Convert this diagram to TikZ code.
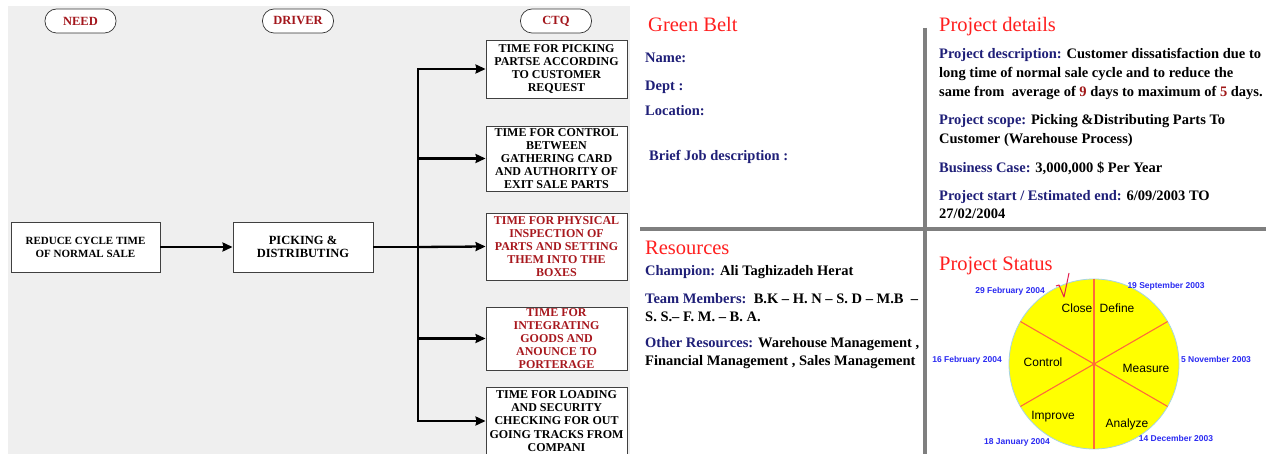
\documentclass[tikz,border=0pt]{standalone}
\usepackage{fontspec}
\setmainfont{Liberation Serif}
\newfontfamily\arialfont{Liberation Sans}
\usetikzlibrary{arrows.meta}

\definecolor{panelgray}{HTML}{EFEFEF}
\definecolor{tagred}{HTML}{A3161C}
\definecolor{ctqred}{HTML}{A8181E}
\definecolor{navy}{HTML}{1F1F78}
\definecolor{headred}{HTML}{FF1F1F}
\definecolor{numred}{HTML}{A01818}
\definecolor{rulegray}{HTML}{7F7F7F}
\definecolor{dateblue}{HTML}{2B2BF2}
\definecolor{pieyellow}{HTML}{FFFF00}
\definecolor{pieline}{HTML}{FF6A3A}
\definecolor{pieedge}{HTML}{A6D4E4}
\definecolor{checkred}{HTML}{E3204E}

\newcommand\lbl[1]{\textcolor{navy}{#1}}

\tikzset{
  tag/.style={draw=black!80, line width=0.7pt, fill=white, rounded corners=11.5pt,
    minimum width=71pt, minimum height=24pt, inner sep=0pt, text=tagred,
    font=\bfseries\fontsize{12.5}{13}\selectfont},
  flowbox/.style={draw=black!75, line width=0.9pt, fill=white, align=center,
    inner sep=1pt, font=\bfseries\fontsize{11}{13}\selectfont},
  ctqbox/.style={flowbox, minimum width=141pt, font=\bfseries\fontsize{12}{13.1}\selectfont},
  flowarrow/.style={line width=2.3pt, -{Stealth[length=10pt,width=9pt,inset=1pt]}},
  heading/.style={anchor=base west, inner sep=0pt, text=headred,
    font=\fontsize{20.5}{22}\selectfont},
  info/.style={anchor=base west, inner sep=0pt, font=\bfseries\fontsize{14.5}{16}\selectfont},
  divider/.style={draw=rulegray, line width=4pt},
  phase/.style={inner sep=0pt, font=\arialfont\fontsize{12}{13}\selectfont},
  milestone/.style={inner sep=0pt, text=dateblue,
    font=\arialfont\bfseries\fontsize{8.5}{9}\selectfont},
}

\begin{document}
\begin{tikzpicture}[x=1pt, y=-1pt]
\clip (0,0) rectangle (1266,454);
\fill[white] (0,0) rectangle (1266,454);

% ---------------- left: CTQ tree ----------------
\fill[panelgray] (8,6) rectangle (630,454);

\node[tag] (tneed)   at (80.5,21) {NEED};
\node[tag] (tdriver) at (298,21)  {DRIVER};
\node[tag] (tctq)    at (556,21)  {CTQ};

\node[flowbox, minimum width=149pt, minimum height=50pt] (need) at (85.5,247)
  {REDUCE CYCLE TIME\\OF NORMAL SALE};
\node[flowbox, minimum width=140pt, minimum height=50pt,
      font=\bfseries\fontsize{12.5}{13.5}\selectfont] (driver) at (303,247)
  {PICKING \&\\DISTRIBUTING};

\node[ctqbox, minimum height=58pt] (ctq1) at (556.5,69)
  {TIME FOR PICKING\\PARTSE ACCORDING\\TO CUSTOMER\\REQUEST};
\node[ctqbox, minimum height=65pt] (ctq2) at (556.5,158.5)
  {TIME FOR CONTROL\\BETWEEN\\GATHERING CARD\\AND AUTHORITY OF\\EXIT SALE PARTS};
\node[ctqbox, minimum height=67pt, text=ctqred] (ctq3) at (556.5,246.5)
  {TIME FOR PHYSICAL\\INSPECTION OF\\PARTS AND SETTING\\THEM INTO THE\\BOXES};
\node[ctqbox, minimum height=63pt, text=ctqred] (ctq4) at (556.5,338.5)
  {TIME FOR\\INTEGRATING\\GOODS AND\\ANOUNCE TO\\PORTERAGE};
\node[ctqbox, minimum height=68pt] (ctq5) at (556.5,421)
  {TIME FOR LOADING\\AND SECURITY\\CHECKING FOR OUT\\GOING TRACKS FROM\\COMPANI};

\coordinate (bus) at (418,247);

\draw[flowarrow] (need) -- (driver);
\draw[line width=2.3pt] (driver.east) -- (bus);
\draw[flowarrow] (bus) |- (ctq1.west);
\draw[flowarrow] (bus) |- (ctq2.west);
\draw[flowarrow] (bus) -- (ctq3.west);
\draw[flowarrow] (bus) |- (ctq4.west);
\draw[flowarrow] (bus) |- (ctq5.west);

% ---------------- right: project charter ----------------
\draw[divider] (925,28) -- (925,454);
\draw[divider] (640,229) -- (1266,229);

\node[heading] (gb) at (648,32) {Green Belt};
\node[info, text=navy] (nm)  at (645,63)  {Name:};
\node[info, text=navy] (dp)  at (645,91)  {Dept :};
\node[info, text=navy] (loc) at (645,116) {Location:};
\node[info, text=navy] (job) at (649,161) {Brief Job description :};

\node[heading] (pd) at (939,32) {Project details};
\node[info] (d1) at (939,59)  {\lbl{Project description:} Customer dissatisfaction due to};
\node[info] (d2) at (939,78)  {long time of normal sale cycle and to reduce the};
\node[info] (d3) at (939,97)  {same from\ \ average of \textcolor{numred}{9} days to maximum of \textcolor{numred}{5} days.};
\node[info] (d4) at (939,125) {\lbl{Project scope:} Picking \&Distributing Parts To};
\node[info] (d5) at (939,144) {Customer (Warehouse Process)};
\node[info] (d6) at (939,173) {\lbl{Business Case:} 3,000,000 \$ Per Year};
\node[info] (d7) at (939,201) {\lbl{Project start / Estimated end:} 6/09/2003 TO};
\node[info] (d8) at (939,219) {27/02/2004};

\node[heading] (rs) at (645,255) {Resources};
\node[info] (r1) at (645,276) {\lbl{Champion:} Ali Taghizadeh Herat};
\node[info] (r2) at (645,303) {\lbl{Team Members:}\ \ B.K -- H. N -- S. D -- M.B\ \ --};
\node[info] (r3) at (645,321) {S. S.-- F. M. -- B. A.};
\node[info] (r4) at (645,347) {\lbl{Other Resources:} Warehouse Management ,};
\node[info] (r5) at (645,365) {Financial Management , Sales Management};

\node[heading] (ps) at (939,271) {Project Status};

% DMAIC wheel
\begin{scope}[shift={(1094,364)}, yscale=-1]
  \fill[pieyellow] (0,0) circle (85);
  \draw[pieedge, line width=0.8pt] (0,0) circle (85);
  \draw[pieline, line width=1.1pt] (90:85) -- (270:85);
  \draw[pieline, line width=1.1pt] (30:85) -- (210:85);
  \draw[pieline, line width=1.1pt] (150:85) -- (330:85);
\end{scope}

\node[phase] (pclose)   at (1077,308) {Close};
\node[phase] (pdefine)  at (1117,308) {Define};
\node[phase] (pcontrol) at (1043,362) {Control};
\node[phase] (pmeasure) at (1146,368) {Measure};
\node[phase] (pimprove) at (1053,417) {Improve};
\node[phase] (panalyze) at (1127,424) {Analyze};

\node[milestone] (m1) at (1166,286) {19 September 2003};
\node[milestone] (m2) at (1216,359) {5 November 2003};
\node[milestone] (m3) at (1176,438) {14 December 2003};
\node[milestone] (m4) at (1017,442) {18 January 2004};
\node[milestone] (m5) at (967,360)  {16 February 2004};
\node[milestone] (m6) at (1010,291) {29 February 2004};

\draw[checkred, line width=1pt, line join=round]
  (1056,286) -- (1059,285) -- (1064,297) -- (1069,273);
\end{tikzpicture}
\end{document}
